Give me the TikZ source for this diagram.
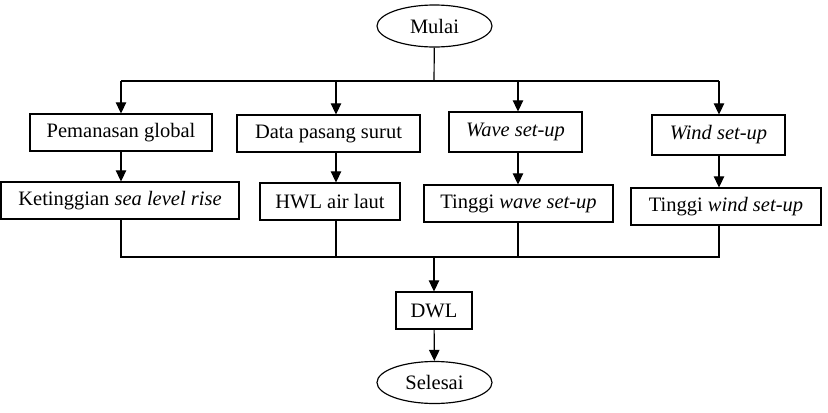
\documentclass[tikz,border=0pt]{standalone}
\usepackage{fontspec}
\setmainfont{Liberation Serif}
\usetikzlibrary{shapes.geometric,arrows.meta}

\begin{document}
\begin{tikzpicture}[x=0.03cm,y=-0.03cm,
    font=\fontsize{17.5}{21}\selectfont,
    box/.style={draw,line width=1pt,inner sep=0pt,minimum height=1.11cm},
    term/.style={draw,ellipse,line width=1pt,inner sep=0pt,minimum width=3.45cm,minimum height=1.26cm},
    line/.style={line width=1pt},
    arr/.style={line width=1pt,-{Triangle[length=9.5pt,width=9pt]}}]
    \useasboundingbox (0,0) rectangle (828,412);

    % Start / end
    \node[term] (mulai) at (434.5,26) {Mulai};
    \node[term] (selesai) at (434.5,382.5) {Selesai};

    % First row
    \node[box,minimum width=5.46cm] (pem) at (121,132.5) {Pemanasan global};
    \node[box,minimum width=5.49cm] (data) at (328.5,133.5) {Data pasang surut};
    \node[box,minimum width=3.99cm,minimum height=1.2cm] (wave) at (515.5,132) {\textit{Wave set-up}};
    \node[box,minimum width=3.99cm,minimum height=1.2cm] (wind) at (718.5,135) {\textit{Wind set-up}};

    % Second row
    \node[box,minimum width=7.14cm] (ket) at (120,200.5) {Ketinggian \textit{sea level rise}};
    \node[box,minimum width=4.2cm] (hwl) at (330,201.5) {HWL air laut};
    \node[box,minimum width=5.67cm] (twave) at (518.5,203.5) {Tinggi \textit{wave set-up}};
    \node[box,minimum width=5.7cm] (twind) at (726,206.5) {Tinggi \textit{wind set-up}};

    % Result
    \node[box,minimum width=2.28cm] (dwl) at (434,310.5) {DWL};

    % Branch and join points
    \coordinate (split) at (434,81);
    \coordinate (join) at (434,257);
    \coordinate (a1) at (121,81);
    \coordinate (a2) at (336,81);
    \coordinate (a3) at (518,81);
    \coordinate (a4) at (719,81);

    % Top branching
    \draw[line] (mulai) -- (split);
    \draw[line] (a1) -- (a4);
    \draw[arr] (a1) -- (a1 |- pem.north);
    \draw[arr] (a2) -- (a2 |- data.north);
    \draw[arr] (a3) -- (a3 |- wave.north);
    \draw[arr] (a4) -- (a4 |- wind.north);

    % Row to row
    \draw[arr] (a1 |- pem.south) -- (a1 |- ket.north);
    \draw[arr] (a2 |- data.south) -- (a2 |- hwl.north);
    \draw[arr] (a3 |- wave.south) -- (a3 |- twave.north);
    \draw[arr] (a4 |- wind.south) -- (a4 |- twind.north);

    % Joining
    \draw[line] (a1 |- ket.south) -- (a1 |- join) -- (a4 |- join) -- (a4 |- twind.south);
    \draw[line] (a2 |- hwl.south) -- (a2 |- join);
    \draw[line] (a3 |- twave.south) -- (a3 |- join);
    \draw[arr] (join) -- (dwl);
    \draw[arr] (dwl) -- (selesai);
\end{tikzpicture}
\end{document}
